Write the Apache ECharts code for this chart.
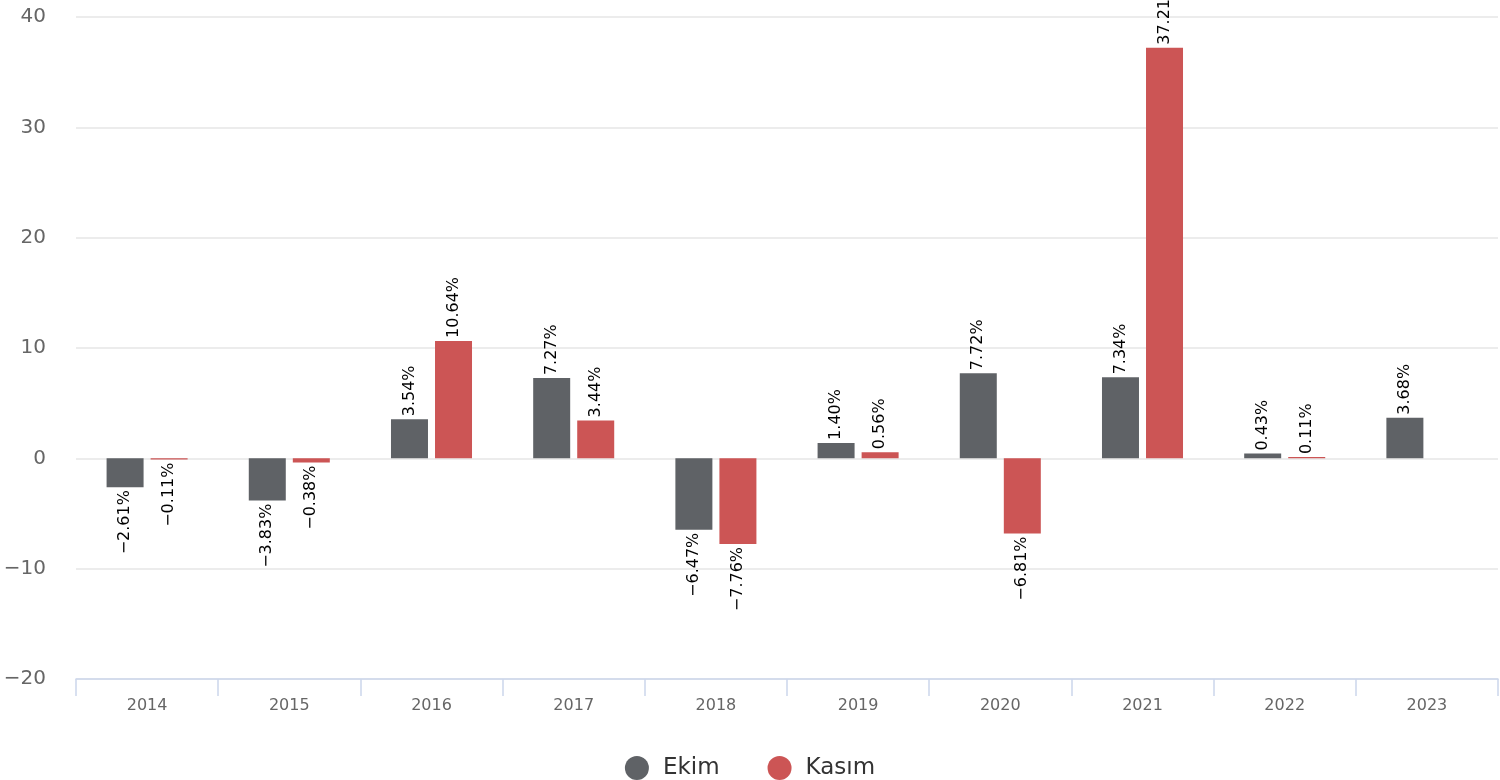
<!DOCTYPE html>
<html><head><meta charset="utf-8">
<script src="https://cdn.jsdelivr.net/npm/echarts@6/dist/echarts.min.js"></script>
<style>html,body{margin:0;padding:0;background:#fff}#c{width:1500px;height:780px}</style>
</head><body><div id="c"></div>
<script>
const categories = ['2014','2015','2016','2017','2018','2019','2020','2021','2022','2023'];
const ekim = [-2.61, -3.83, 3.54, 7.27, -6.47, 1.40, 7.72, 7.34, 0.43, 3.68];
const kasim = [-0.11, -0.38, 10.64, 3.44, -7.76, 0.56, -6.81, 37.21, 0.11, null];
const yTicks = { min: -20, max: 40, interval: 10 };
const FONT = 'DejaVu Sans';
const minus = s => String(s).replace('-', '\u2212');
function items(arr) {
  return arr.map(v => {
    if (v === null) return null;
    const neg = v < 0;
    return {
      value: v,
      label: {
        show: true,
        position: neg ? 'bottom' : 'top',
        rotate: 90,
        align: neg ? 'right' : 'left',
        verticalAlign: 'middle',
        distance: 3,
        color: '#000',
        fontSize: 16,
        fontFamily: FONT,
        formatter: p => minus(p.value.toFixed(2)) + '%'
      }
    };
  });
}
const chart = echarts.init(document.getElementById('c'));
chart.setOption({
  animation: false,
  textStyle: { fontFamily: FONT },
  grid: { left: 76, right: 2, top: 17, bottom: 101, containLabel: false },
  legend: {
    top: 751, left: 'center', icon: 'circle', itemWidth: 24, itemHeight: 24, itemGap: 48,
    textStyle: { fontSize: 23, color: '#333', fontFamily: FONT, padding: [0, 0, 0, 9] },
    data: ['Ekim', 'Kasım']
  },
  xAxis: {
    type: 'category', data: categories,
    axisLine: { onZero: false, lineStyle: { color: '#ccd6eb', width: 1.5 } },
    axisTick: { show: true, length: 17, lineStyle: { color: '#ccd6eb', width: 1.5 } },
    axisLabel: { color: '#666', fontSize: 16, margin: 19, fontFamily: FONT }
  },
  yAxis: {
    type: 'value', min: yTicks.min, max: yTicks.max, interval: yTicks.interval,
    axisLine: { show: false }, axisTick: { show: false },
    splitLine: { lineStyle: { color: '#e6e6e6', width: 1.5 } },
    axisLabel: { color: '#666', fontSize: 20, margin: 30, fontFamily: FONT, formatter: v => minus(v) }
  },
  series: [
    { name: 'Ekim', type: 'bar', data: items(ekim), itemStyle: { color: '#5f6266' }, barWidth: 37, barGap: '19%' },
    { name: 'Kasım', type: 'bar', data: items(kasim), itemStyle: { color: '#cc5555' }, barWidth: 37 }
  ]
});
</script></body></html>
